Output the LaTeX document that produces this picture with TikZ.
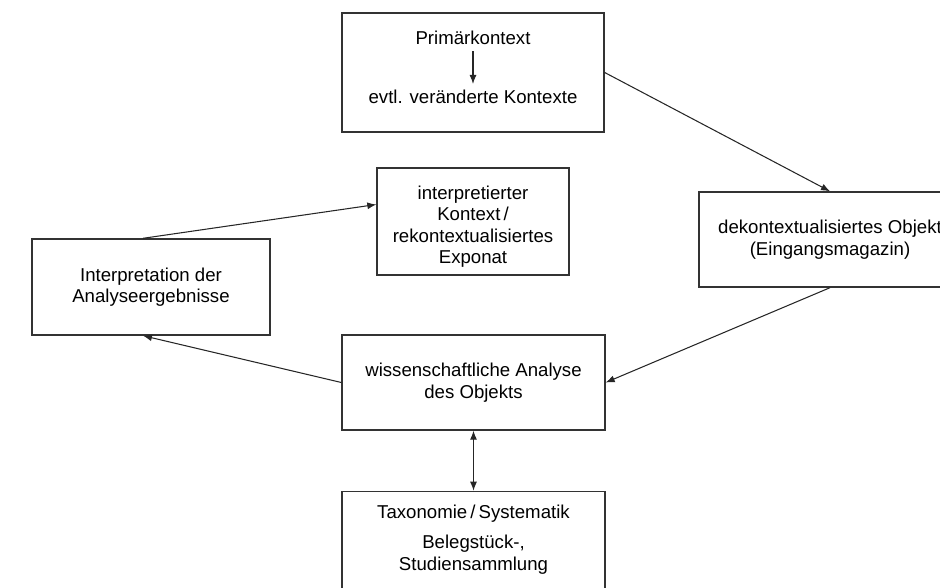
\documentclass[tikz,border=0pt]{standalone}
\usepackage{fontspec}
\setmainfont{Liberation Sans}
\usetikzlibrary{arrows.meta, calc, positioning}
\tikzset{
	every node/.style={
		font=\fontsize{10.6}{12.2}\selectfont
	},
	kasten/.style={
		shape=rectangle,
		draw=black!80,
		line width=0.8pt,
		align=center,
		inner sep=0pt
	},
	pfeil/.style={
		-{Latex[length=1.8mm, width=1.4mm]},
		draw=black!85,
		line width=0.6pt
	}
}

\begin{document}
\begin{tikzpicture}[x=0.02cm, y=-0.02cm]
  \path[use as bounding box, clip] (0,0) rectangle (940,588);

  % Kontext oben
  \node[kasten, minimum width=5.24cm, minimum height=2.38cm] (prim) at (473,72.5) {};
  \node (primtext) at (473,38) {Primärkontext};
  \node (evtl)     at (473,97) {evtl. veränderte Kontexte};

  \node[kasten, minimum width=5.24cm, minimum height=1.9cm]  (dekont) at (830,239.5)
        {dekontextualisiertes Objekt\\(Eingangsmagazin)};
  \node[kasten, minimum width=3.84cm, minimum height=2.14cm] (interp) at (473,221.5)
        {\rule{0pt}{4.8mm}interpretierter\\Kontext\,/\\rekontextualisiertes\\Exponat};
  \node[kasten, minimum width=4.76cm, minimum height=1.92cm] (deut) at (151,287)
        {Interpretation der\\Analyseergebnisse};
  \node[kasten, minimum width=5.26cm, minimum height=1.9cm]  (analyse) at (473.5,382.5)
        {wissenschaftliche Analyse\\des Objekts};
  \node[kasten, minimum width=5.26cm, minimum height=2.6cm, below=1.2cm of analyse] (taxo) {};
  \node[align=center] (taxotext) at (473.5,539.5)
        {Taxonomie\,/\,Systematik\\[5pt]Belegstück-,\\Studiensammlung};

  % Pfeile
  \draw[pfeil] (primtext) -- (evtl);
  \draw[pfeil] (prim.east) -- (dekont.north);
  \draw[pfeil] (dekont.south) -- (analyse.east);
  \draw[pfeil] (analyse.west) -- ($(deut.south)+(-8,0)$);
  \draw[pfeil] ($(deut.north)+(-8,0)$) -- ($(interp.west)+(0,-17)$);
  \draw[pfeil, {Latex[length=1.8mm, width=1.4mm]}-{Latex[length=1.8mm, width=1.4mm]}] (analyse) -- (taxo);
\end{tikzpicture}
\end{document}
